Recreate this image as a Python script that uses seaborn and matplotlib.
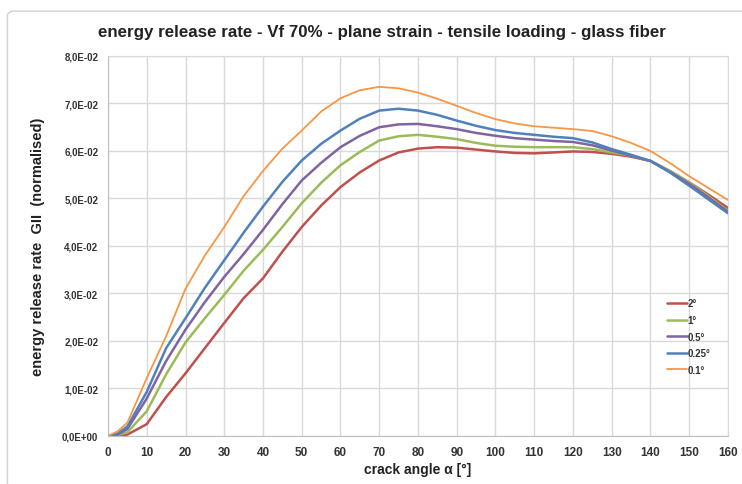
import matplotlib
matplotlib.use("Agg")
import matplotlib.pyplot as plt
from matplotlib.ticker import FuncFormatter, MultipleLocator
from matplotlib.patches import FancyBboxPatch
import seaborn as sns
import pandas as pd

# crack angle [°]
angles = [0, 2.5, 5, 10, 15, 20, 25, 30, 35, 40, 45, 50, 55, 60, 65, 70, 75, 80,
          85, 90, 95, 100, 105, 110, 115, 120, 125, 130, 135, 140, 145, 150, 155, 160]

# GII (normalised) per mesh angle
g_2 = [0, 0, 0.0003, 0.0025, 0.0082, 0.0132, 0.0185, 0.0238, 0.0290, 0.0332, 0.0388, 0.0440,
       0.0485, 0.0524, 0.0555, 0.0580, 0.0597, 0.0605, 0.0608, 0.0607, 0.0603, 0.0599, 0.0596,
       0.0595, 0.0597, 0.0599, 0.0598, 0.0594, 0.0588, 0.0579, 0.0558, 0.0534, 0.0508, 0.0480]
g_1 = [0, 0.0002, 0.0008, 0.0052, 0.0130, 0.0197, 0.0248, 0.0297, 0.0348, 0.0392, 0.0440, 0.0490,
       0.0533, 0.0570, 0.0598, 0.0622, 0.0631, 0.0634, 0.0630, 0.0625, 0.0617, 0.0611, 0.0609,
       0.0608, 0.0608, 0.0608, 0.0604, 0.0597, 0.0590, 0.0579, 0.0558, 0.0534, 0.0505, 0.0474]
g_05 = [0, 0.0003, 0.0015, 0.0079, 0.0158, 0.0224, 0.0282, 0.0335, 0.0383, 0.0434, 0.0488, 0.0538,
        0.0575, 0.0608, 0.0632, 0.0650, 0.0656, 0.0657, 0.0652, 0.0646, 0.0638, 0.0632, 0.0627,
        0.0624, 0.0621, 0.0619, 0.0612, 0.0601, 0.0590, 0.0579, 0.0556, 0.0531, 0.0502, 0.0472]
g_025 = [0, 0.0005, 0.0020, 0.0093, 0.0185, 0.0248, 0.0312, 0.0370, 0.0428, 0.0483, 0.0535, 0.0580,
         0.0615, 0.0643, 0.0668, 0.0685, 0.0689, 0.0685, 0.0676, 0.0664, 0.0653, 0.0644, 0.0638,
         0.0634, 0.0630, 0.0627, 0.0618, 0.0604, 0.0592, 0.0579, 0.0555, 0.0527, 0.0498, 0.0469]
g_01 = [0, 0.0010, 0.0028, 0.0122, 0.0210, 0.0310, 0.0380, 0.0440, 0.0505, 0.0558, 0.0605, 0.0643,
        0.0683, 0.0711, 0.0728, 0.0735, 0.0732, 0.0723, 0.0710, 0.0695, 0.0680, 0.0667, 0.0658,
        0.0652, 0.0649, 0.0646, 0.0642, 0.0631, 0.0617, 0.0600, 0.0575, 0.0547, 0.0522, 0.0497]

labels = ['2°', '1°', '0.5°', '0.25°', '0.1°']
colors = ['#C0504D', '#9BBB59', '#8064A2', '#4F81BD', '#F79646']
widths = [1.8, 1.8, 1.8, 1.8, 1.3]

frames = []
for lab, vals in zip(labels, [g_2, g_1, g_05, g_025, g_01]):
    frames.append(pd.DataFrame({'angle': angles, 'G': vals, 'mesh': lab}))
df = pd.concat(frames, ignore_index=True)

sns.set_style("white")
plt.rcParams['font.family'] = ['Liberation Sans', 'DejaVu Sans']

fig = plt.figure(figsize=(7.42, 4.85), dpi=100)
ax = fig.add_axes([0.1456, 0.099, 0.8354, 0.7835])

# outer chart border
fig.patches.append(FancyBboxPatch((0.01, -0.05), 1.2, 1.025, boxstyle="round,pad=0,rounding_size=0.01",
                                  transform=fig.transFigure, fill=False, edgecolor='#d0d0d0', lw=1))

sns.lineplot(data=df, x='angle', y='G', hue='mesh', palette=dict(zip(labels, colors)),
             hue_order=labels, ax=ax, legend=False)
for line, w in zip(ax.get_lines(), widths):
    line.set_linewidth(w)

ax.set_xlim(0, 160)
ax.set_ylim(0, 0.08)
ax.xaxis.set_major_locator(MultipleLocator(10))
ax.yaxis.set_major_locator(MultipleLocator(0.01))
ax.yaxis.set_major_formatter(FuncFormatter(lambda v, p: f"{v:.1E}".replace('.', ',')))
ax.grid(True, color='#d9d9d9', lw=1)
ax.set_axisbelow(True)
for s in ax.spines.values():
    s.set_color('#d9d9d9')
ax.spines['left'].set_color('#bfbfbf')
ax.spines['bottom'].set_color('#bfbfbf')
ax.tick_params(axis='both', length=4, color='#bfbfbf', pad=3)
ax.tick_params(axis='x', labelsize=8.5)
ax.tick_params(axis='y', labelsize=7.0)
for t in ax.get_xticklabels() + ax.get_yticklabels():
    t.set_fontweight('bold')
    t.set_color('#333333')

ax.set_xlabel('crack angle α [°]', fontsize=10, fontweight='bold', color='#222222', labelpad=3)
ax.set_ylabel('energy release rate  GII  (normalised)', fontsize=10.5, fontweight='bold',
              color='#222222', labelpad=12)
fig.suptitle('energy release rate - Vf 70% - plane strain - tensile loading - glass fiber',
             x=0.515, y=0.948, fontsize=12.2, fontweight='bold', color='#222222')

handles = [plt.Line2D([], [], color=c, lw=w) for c, w in zip(colors, widths)]
leg = ax.legend(handles, labels, loc='upper left', bbox_to_anchor=(0.888, 0.385), frameon=False,
                handlelength=2.0, handletextpad=0.1, labelspacing=0.68,
                prop={'size': 7.0, 'weight': 'bold'})
for t in leg.get_texts():
    t.set_color('#333333')

fig.savefig('out.png', dpi=100)
